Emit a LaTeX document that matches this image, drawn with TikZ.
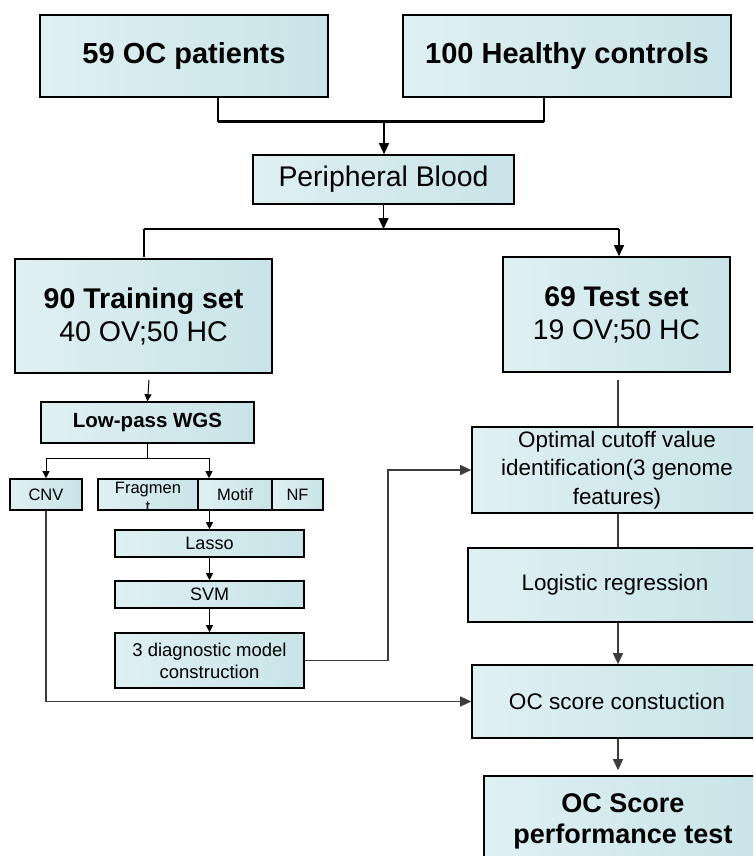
\documentclass[tikz,border=0pt]{standalone}
\usepackage{fontspec}
\setmainfont{Liberation Sans}
\usetikzlibrary{arrows.meta,calc}
\definecolor{boxL}{RGB}{223,240,242}
\definecolor{boxR}{RGB}{200,228,232}
\definecolor{lineC}{RGB}{60,60,60}
\newcommand\myfs[2]{\fontsize{#1}{#2}\selectfont}
\begin{document}
\begin{tikzpicture}[x=1pt,y=-1pt,
  box/.style={draw=black,line width=1.6pt,left color=boxL,right color=boxR,inner sep=0pt,align=center,text=black},
  conn/.style={draw=lineC,line width=1.3pt},
  arr/.style={conn,-{Triangle[length=11pt,width=10pt]}},
  sarr/.style={conn,line width=1pt,-{Triangle[length=7pt,width=7pt]}}]
\useasboundingbox (0,0) rectangle (753,856);
\fill[white] (0,0) rectangle (753,856);
\clip (0,0) rectangle (753,856);

% boxes
\node[box,minimum width=288pt,minimum height=82pt,font=\bfseries\myfs{29}{34}] (pat) at (184,56) {59 OC patients};
\node[box,minimum width=328pt,minimum height=82pt,font=\bfseries\myfs{29}{34}] (hc) at (567,56) {100 Healthy controls};
\node[box,minimum width=261pt,minimum height=49pt,font=\myfs{28.4}{32}] (pb) at (383.5,179.5) {Peripheral Blood};
\node[box,minimum width=257pt,minimum height=114pt,font=\myfs{28.5}{33}] (train) at (143.5,316) {\textbf{90 Training set}\\40 OV;50 HC};
\node[box,minimum width=227pt,minimum height=115pt,font=\myfs{28.3}{33}] (test) at (616.5,314.5) {\textbf{69 Test set}\\19 OV;50 HC};
\node[box,minimum width=213pt,minimum height=41pt,font=\bfseries\myfs{20.5}{24}] (wgs) at (147.5,422.5) {Low-pass WGS};
\node[box,minimum width=72pt,minimum height=31pt,font=\myfs{16.5}{19}] (cnv) at (46,494.5) {CNV};
\node[box,minimum width=100pt,minimum height=31pt] (frag) at (148,494.5) {};
\node[box,minimum width=74pt,minimum height=31pt,font=\myfs{16.5}{19}] (motif) at (235,494.5) {Motif};
\node[box,minimum width=51pt,minimum height=31pt,font=\myfs{16.5}{19}] (nf) at (297.5,494.5) {NF};
\begin{scope}
  \clip (frag.south west) rectangle (frag.north east);
  \node[inner sep=0pt,align=center,font=\myfs{16.5}{19}] (fragtext) at (148,497) {Fragmen\\t};
\end{scope}
\node[box,minimum width=189pt,minimum height=27pt,font=\myfs{18}{21}] (lasso) at (209.5,543.5) {Lasso};
\node[box,minimum width=189pt,minimum height=27pt,font=\myfs{18}{21}] (svm) at (209.5,594.5) {SVM};
\node[box,minimum width=189pt,minimum height=55pt,font=\myfs{18.5}{22}] (diag) at (209.5,660.5) {3 diagnostic model\\construction};
\node[box,minimum width=290pt,minimum height=86pt,font=\myfs{22.4}{28.5}] (opt) at (617,470) {Optimal cutoff value\\identification(3 genome\\features)};
\node[box,minimum width=294pt,minimum height=74pt,font=\myfs{22.4}{26}] (logi) at (615,585) {Logistic regression};
\node[box,minimum width=290pt,minimum height=73pt,font=\myfs{22.6}{26}] (ocs) at (617,701.5) {OC score constuction};
\node[box,minimum width=278pt,minimum height=90pt,font=\bfseries\myfs{27}{31}] (perf) at (623,821) {OC Score\\performance test};

% top bracket
\coordinate (b1L) at (218,122);
\coordinate (b1R) at (544,122);
\coordinate (b1M) at (384,122);
\draw[conn,black,line width=1.6pt] (pat.south -| b1L) -- (b1L);
\draw[conn,black,line width=1.6pt] (hc.south -| b1R) -- (b1R);
\draw[black,line width=3pt] (b1L) -- (b1R);
\draw[arr,black] (b1M) -- (b1M |- pb.north);

% second bracket
\coordinate (b2L) at (144,229);
\coordinate (b2R) at (619,229);
\coordinate (b2Lend) at (144,257);
\draw[arr,black] (pb.south) -- (pb.south |- b2L);
\draw[black,line width=1.8pt] (b2L) -- (b2R);
\draw[black,line width=1.8pt] (b2L) -- (b2Lend);
\draw[arr,black] (b2R) -- (b2R |- test.north);

% training branch
\coordinate (t2w) at (149,380);
\draw[sarr,black] (t2w) -- (wgs.north);
\coordinate (w1) at (147.5,458);
\coordinate (w1L) at (46,458);
\coordinate (w1R) at (209,458);
\draw[conn,black,line width=1pt] (wgs.south) -- (w1);
\draw[conn,black,line width=1pt] (w1L) -- (w1R);
\draw[sarr,black] (w1L) -- (cnv.north);
\draw[sarr,black] (w1R) -- (w1R |- motif.north);
\draw[sarr,black] (motif.south -| lasso.north) -- (lasso.north);
\draw[sarr,black] (lasso.south) -- (svm.north);
\draw[sarr,black] (svm.south) -- (diag.north);

% cross links
\coordinate (k1) at (388,470);
\draw[arr] (diag.east) -| (k1) -- (opt.west);
\draw[arr] (cnv.south) |- (ocs.west);

% test branch
\coordinate (t3) at (618,380);
\draw[conn] (t3) -- (t3 |- opt.north);
\draw[conn] (opt.south -| t3) -- (logi.north -| t3);
\draw[arr] (logi.south -| t3) -- (ocs.north -| t3);
\draw[arr,shorten >=5pt] (ocs.south -| t3) -- (perf.north -| t3);
\end{tikzpicture}
\end{document}
